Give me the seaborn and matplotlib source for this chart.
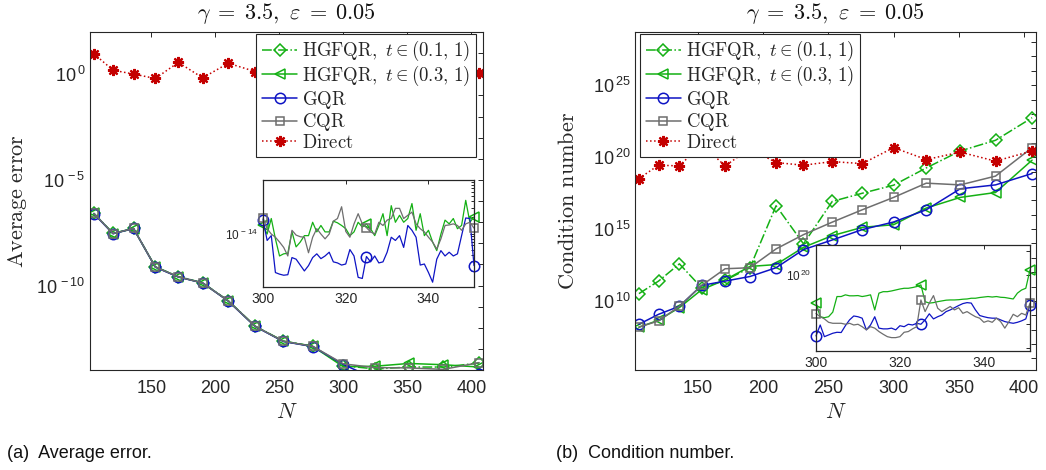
import numpy as np
import matplotlib
matplotlib.use("Agg")
import matplotlib.pyplot as plt
import seaborn as sns
from matplotlib.ticker import FixedLocator, NullLocator, FixedFormatter, LogLocator, NullFormatter

# ---------------------------------------------------------------- data
N = [105, 120, 136, 153, 171, 190, 210, 231, 253, 276, 300, 325, 351, 378, 406]

# average error, stored as log10 values
err_hg01 = [-6.58, -7.53, -7.30, -9.11, -9.58, -9.87, -10.72, -11.92, -12.63, -12.87,
            -13.80, -13.95, -13.86, -13.86, -13.67]
err_hg03 = [-6.59, -7.54, -7.31, -9.12, -9.59, -9.88, -10.73, -11.93, -12.64, -12.88,
            -13.85, -13.82, -13.69, -13.75, -13.86]
err_gqr = [-6.60, -7.55, -7.30, -9.13, -9.60, -9.88, -10.74, -11.94, -12.65, -12.89,
           -13.74, -14.43, -14.60, -14.30, -14.20]
err_cqr = [-6.59, -7.54, -7.30, -9.12, -9.59, -9.88, -10.73, -11.93, -12.64, -12.88,
           -13.71, -13.89, -13.90, -13.97, -13.65]
err_direct = [0.97, 0.19, 0.01, -0.20, 0.56, -0.17, 0.52, 0.13, -0.05, 0.20,
              0.60, 0.30, 0.50, 0.20, 0.08]

# condition number, stored as log10 values
cond_hg01 = [10.51, 11.38, 12.58, 10.92, 11.43, 12.31, 16.62, 13.97, 16.92, 17.49,
             18.05, 19.25, 20.43, 21.17, 22.74]
cond_hg03 = [8.17, 8.66, 9.54, 10.78, 11.47, 12.40, 12.53, 13.73, 14.54, 15.12,
             15.30, 16.46, 17.20, 17.54, 19.79]
cond_gqr = [8.38, 9.07, 9.63, 11.08, 11.38, 11.70, 12.31, 13.57, 14.24, 14.96,
            15.49, 16.34, 17.80, 18.07, 18.86]
cond_cqr = [8.19, 8.61, 9.63, 11.08, 12.24, 12.31, 13.62, 14.61, 15.48, 16.34,
            17.20, 18.19, 18.07, 18.68, 20.66]
cond_direct = [18.51, 19.44, 19.39, 20.90, 19.39, 20.60, 19.62, 19.44, 19.69, 19.55,
               20.66, 19.83, 20.35, 19.72, 20.43]

# zoomed range N = 300..351
N_zoom = list(range(300, 352))
zerr_hg03 = [-13.85, -14.01, -13.72, -14.10, -14.42, -14.38, -14.37, -13.97, -14.25, -14.16,
             -14.04, -14.04, -13.79, -13.97, -13.85, -13.97, -13.97, -13.77, -13.80, -13.85,
             -13.91, -14.04, -13.97, -13.79, -13.88, -13.82, -13.91, -14.04, -13.85, -13.63,
             -14.04, -13.48, -13.79, -13.66, -13.79, -13.72, -13.44, -13.94, -13.63, -14.04,
             -13.94, -14.16, -14.32, -14.01, -13.75, -13.82, -13.72, -13.91, -13.85, -13.38,
             -13.79, -13.69]
zerr_gqr = [-13.74, -14.13, -14.04, -14.73, -14.76, -14.78, -14.77, -14.45, -14.48, -14.59,
            -14.70, -14.60, -14.45, -14.38, -14.47, -14.42, -14.35, -14.53, -14.55, -14.59,
            -14.57, -14.30, -14.42, -14.82, -14.84, -14.43, -14.53, -14.42, -14.55, -14.53,
            -14.35, -14.07, -14.13, -14.04, -14.26, -13.85, -13.94, -14.07, -14.59, -14.57,
            -14.73, -14.91, -14.48, -14.32, -14.42, -14.35, -14.42, -14.38, -14.04, -13.71,
            -13.72, -14.60]
zerr_cqr = [-13.71, -13.91, -14.01, -14.07, -14.16, -14.26, -14.42, -13.94, -14.03, -14.06,
            -14.07, -14.36, -14.07, -13.91, -14.01, -14.10, -14.01, -13.77, -13.72, -13.50,
            -13.96, -14.07, -13.82, -13.63, -13.82, -13.89, -13.97, -14.01, -13.79, -13.85,
            -13.75, -13.72, -13.53, -13.53, -13.72, -13.66, -13.60, -13.82, -13.91, -13.97,
            -14.07, -14.16, -14.29, -14.10, -13.85, -13.84, -13.82, -13.85, -13.94, -13.82,
            -13.79, -13.90]

zcond_hg03 = [18.86, 18.28, 18.24, 18.28, 18.47, 19.11, 19.11, 19.18, 19.14, 19.14,
              19.15, 19.11, 19.14, 19.18, 18.56, 19.25, 19.31, 19.31, 19.34, 19.38,
              19.42, 19.45, 19.45, 19.48, 19.52, 19.59, 18.90, 18.84, 18.86, 18.90,
              18.93, 18.96, 18.97, 18.97, 18.98, 19.00, 19.01, 19.04, 19.04, 19.07,
              19.09, 19.11, 19.09, 19.11, 19.08, 19.07, 19.04, 19.01, 19.25, 19.38,
              19.45, 20.21]
zcond_gqr = [17.49, 17.94, 17.46, 17.53, 17.60, 17.64, 17.63, 17.91, 18.15, 18.31,
             18.28, 18.22, 17.74, 17.94, 18.28, 17.81, 17.78, 17.78, 17.81, 17.74,
             17.91, 17.87, 17.97, 17.94, 18.01, 17.97, 18.15, 18.40, 18.19, 18.28,
             18.35, 18.49, 18.56, 18.65, 18.74, 18.82, 18.86, 18.84, 18.56, 18.33,
             18.28, 18.24, 18.22, 18.22, 18.15, 18.08, 18.04, 18.01, 18.05, 18.11,
             18.19, 18.77]
zcond_cqr = [18.41, 18.28, 18.19, 18.05, 18.01, 18.01, 18.01, 17.97, 18.01, 17.94,
             17.97, 17.87, 17.74, 17.87, 17.81, 17.67, 17.56, 17.46, 17.42, 17.42,
             17.46, 17.64, 17.67, 17.78, 17.87, 18.97, 18.49, 18.84, 19.15, 18.63,
             18.49, 18.60, 18.70, 18.56, 18.65, 18.42, 18.49, 18.38, 18.28, 18.22,
             18.05, 18.11, 18.05, 18.22, 18.08, 17.81, 18.08, 18.38, 18.28, 18.42,
             18.35, 18.84]

labels = [r"$\mathrm{HGFQR},\ t\in(0.1,\,1)$", r"$\mathrm{HGFQR},\ t\in(0.3,\,1)$",
          r"$\mathrm{GQR}$", r"$\mathrm{CQR}$", r"$\mathrm{Direct}$"]
title = r"$\gamma\;=\;3.5,\ \varepsilon\;=\;0.05$"

# ---------------------------------------------------------------- style
sns.set_theme(style="white")
plt.rcParams["font.family"] = ["Liberation Sans", "DejaVu Sans"]
plt.rcParams["mathtext.fontset"] = "cm"
plt.rcParams["axes.unicode_minus"] = False

GREEN = "#14B014"
BLUE = "#0E14C4"
GRAY = "#6E6E6E"
RED = "#C40000"
FRAME = "#262626"

styles = [
    dict(color=GREEN, marker="D", markersize=6.5, linestyle="-.", mfc="none", mew=1.1),
    dict(color=GREEN, marker="<", markersize=7.5, linestyle="-", mfc="none", mew=1.1),
    dict(color=BLUE, marker="o", markersize=7.5, linestyle="-", mfc="none", mew=1.1),
    dict(color=GRAY, marker="s", markersize=5.5, linestyle="-", mfc="none", mew=1.1),
    dict(color=RED, marker=(8, 2, 0), markersize=8, linestyle=":", mfc=RED, mew=1.6),
]


def draw_series(ax, x, logy, st, label=None, lw=1.1, **extra):
    sns.lineplot(x=np.asarray(x), y=10.0 ** np.asarray(logy), ax=ax, estimator=None,
                 color=st["color"], linestyle=st["linestyle"], linewidth=lw,
                 marker=st["marker"], markersize=st["markersize"],
                 markerfacecolor=st["mfc"], markeredgecolor=st["color"],
                 markeredgewidth=st["mew"], label=label, legend=False, **extra)


def frame(ax, lw=0.8):
    for s in ax.spines.values():
        s.set_color(FRAME)
        s.set_linewidth(lw)
        s.set_visible(True)
    ax.tick_params(which="both", direction="in", top=True, right=True,
                   color=FRAME, labelcolor=FRAME, width=0.7)


def decade_ticks(ax, lo, hi, labelled, size):
    ks = list(range(lo, hi + 1))
    ax.yaxis.set_major_locator(FixedLocator([10.0 ** k for k in ks]))
    ax.yaxis.set_major_formatter(FixedFormatter(
        [r"$\mathregular{10^{\,%d}}$" % k if k in labelled else "" for k in ks]))
    ax.yaxis.set_minor_locator(NullLocator())
    ax.tick_params(axis="y", labelsize=size)


fig = plt.figure(figsize=(10.46, 4.70), dpi=100)
W, H = 1046.0, 470.0


def axes_px(x0, x1, y0, y1):
    return fig.add_axes([x0 / W, 1 - y1 / H, (x1 - x0) / W, (y1 - y0) / H])


panels = [
    dict(box=(90, 483, 32, 370), series=[err_hg01, err_hg03, err_gqr, err_cqr, err_direct],
         ylim=(-14, 2), ticks=(-14, 2), labelled=(-10, -5, 0), ylabel="Average\\ error",
         ylab_x=18, legend_loc="upper right", caption="(a)  Average error.", cap_x=7,
         inset_box=(263, 474, 180, 287), zseries=[zerr_hg03, zerr_gqr, zerr_cqr]),
    dict(box=(635, 1036, 32, 370), series=[cond_hg01, cond_hg03, cond_gqr, cond_cqr, cond_direct],
         ylim=(5.2, 28.7), ticks=(6, 28), labelled=(10, 15, 20, 25), ylabel="Condition\\ number",
         ylab_x=568, legend_loc="upper left", caption="(b)  Condition number.", cap_x=556,
         inset_box=(816, 1030, 245, 351), zseries=[zcond_hg03, zcond_gqr, zcond_cqr]),
]

for i, p in enumerate(panels):
    x0, x1, y0, y1 = p["box"]
    ax = axes_px(x0, x1, y0, y1)
    for vals, st, lab in zip(p["series"], styles, labels):
        draw_series(ax, N, vals, st, label=lab)
    ax.set_yscale("log")
    ax.set_xlim(102, 409)
    ax.set_ylim(10.0 ** p["ylim"][0], 10.0 ** p["ylim"][1])
    ax.set_xticks([150, 200, 250, 300, 350, 400])
    ax.xaxis.set_minor_locator(NullLocator())
    ax.tick_params(axis="x", labelsize=13, pad=7)
    decade_ticks(ax, p["ticks"][0], p["ticks"][1], p["labelled"], 13)
    frame(ax)
    ax.tick_params(which="both", length=3.5)
    ax.set_xlabel(r"$N$", fontsize=16)
    ax.xaxis.label.set_verticalalignment("center")
    ax.xaxis.set_label_coords(0.5, (y1 - 412) / (y1 - y0))
    ax.set_ylabel(r"$\mathrm{%s}$" % p["ylabel"], fontsize=16)
    ax.yaxis.label.set_verticalalignment("center")
    ax.yaxis.set_label_coords((p["ylab_x"] - x0) / (x1 - x0), 0.5)
    ax.text(0.5, 1 + 18 / (y1 - y0), title,
            transform=ax.transAxes, ha="center", va="center", fontsize=16, color="#111111")

    if p["legend_loc"] == "upper right":
        anchor = (1 - 7 / (x1 - x0), 1 - 1.5 / (y1 - y0))
    else:
        anchor = (5 / (x1 - x0), 1 - 1.5 / (y1 - y0))
    handles = ax.get_lines()[:5]
    leg = ax.legend(handles, labels, loc=p["legend_loc"], bbox_to_anchor=anchor,
                    borderaxespad=0, fontsize=13.5, handlelength=1.9, handletextpad=0.25,
                    labelspacing=0.03, borderpad=0.3, fancybox=False, framealpha=1,
                    edgecolor=FRAME)
    leg.get_frame().set_linewidth(0.8)

    fig.text(p["cap_x"] / W, 1 - 453 / H, p["caption"], fontsize=13, va="center",
             ha="left", color="#111111")

    # zoomed panel over N = 300..351
    ix0, ix1, iy0, iy1 = p["inset_box"]
    ins = axes_px(ix0, ix1, iy0, iy1)
    for vals, st in zip(p["zseries"], [styles[1], styles[2], styles[3]]):
        draw_series(ins, N_zoom, vals, st, lw=0.9, markevery=[0, 25, 51])
    ins.set_yscale("log")
    ins.set_xlim(300, 351)
    ins.set_xticks([300, 320, 340])
    ins.xaxis.set_minor_locator(NullLocator())
    ins.set_xlabel("")
    ins.set_ylabel("")
    ins.set_facecolor("white")
    frame(ins, lw=0.9)
    ins.tick_params(which="both", length=3, labelsize=10)
    for ln in ins.get_lines():
        ln.set_clip_on(False)
    if i == 0:
        ins.set_ylim(1e-15, 1e-13)
        ins.yaxis.set_major_locator(FixedLocator([1e-14]))
        ins.yaxis.set_major_formatter(FixedFormatter([r"$\mathregular{10^{\,-14}}$"]))
        ins.yaxis.set_minor_locator(LogLocator(base=10, subs=np.arange(2, 10)))
        ins.yaxis.set_minor_formatter(NullFormatter())
        ins.tick_params(axis="y", which="minor", length=2)
        ins.tick_params(axis="y", labelsize=8.5)
    else:
        ins.set_ylim(10 ** 16.87, 10 ** 21.23)
        decade_ticks(ins, 17, 21, (20,), 8.5)

fig.savefig("out.png", dpi=100)
